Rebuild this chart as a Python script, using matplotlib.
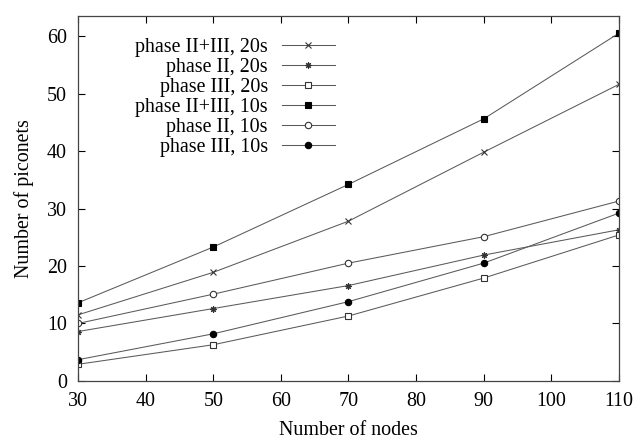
import matplotlib
matplotlib.use('Agg')
import matplotlib.pyplot as plt

plt.rcParams['font.family'] = ['Liberation Serif', 'DejaVu Serif']
plt.rcParams['font.size'] = 14.4

# data
nodes = [30, 50, 70, 90, 110]
p23_20 = [11.5, 18.9, 27.8, 39.8, 51.6]
p2_20 = [8.6, 12.6, 16.6, 21.9, 26.3]
p3_20 = [2.9, 6.3, 11.3, 17.9, 25.4]
p23_10 = [13.6, 23.3, 34.2, 45.6, 60.5]
p2_10 = [10.0, 15.1, 20.5, 25.1, 31.3]
p3_10 = [3.7, 8.2, 13.8, 20.5, 29.2]

labels = ["phase II+III, 20s", "phase II, 20s", "phase III, 20s",
          "phase II+III, 10s", "phase II, 10s", "phase III, 10s"]

fig = plt.figure(figsize=(6.4, 4.44), dpi=100)
ax = fig.add_axes([0.122, 0.142, 0.845, 0.822])

lc = '#5a5a5a'
kw = dict(color=lc, lw=0.75, markersize=4.6, markeredgewidth=0.8)
ax.plot(nodes, p23_20, marker='x', mec='#333333', label=labels[0], **kw)
ax.plot(nodes, p2_20, marker=(8, 2, 0), mec='#333333', label=labels[1], **kw)
ax.plot(nodes, p3_20, marker='s', mfc='white', mec='#333333', label=labels[2], **kw)
ax.plot(nodes, p23_10, marker='s', mfc='black', mec='black', label=labels[3], **kw)
ax.plot(nodes, p2_10, marker='o', mfc='white', mec='#333333', label=labels[4], **kw)
ax.plot(nodes, p3_10, marker='o', mfc='black', mec='black', label=labels[5], **kw)

ax.set_xlim(30, 110)
ax.set_ylim(0, 63.5)
ax.set_xticks(range(30, 111, 10))
ax.set_yticks(range(0, 61, 10))
ax.tick_params(direction='in', top=True, right=True, length=5, width=0.8, pad=8)
for s in ax.spines.values():
    s.set_color('#444444')
    s.set_linewidth(0.9)

ax.set_xlabel("Number of nodes", labelpad=7)
ax.set_ylabel("Number of piconets", labelpad=9)

# markerfirst=False gives gnuplot-like right-aligned labels
ax.legend(loc='upper right', bbox_to_anchor=(0.475, 0.94), frameon=False,
          markerfirst=False, handlelength=2.65, handletextpad=0.7,
          labelspacing=0.05, borderpad=0, borderaxespad=0)

fig.savefig('out.png', dpi=100)
